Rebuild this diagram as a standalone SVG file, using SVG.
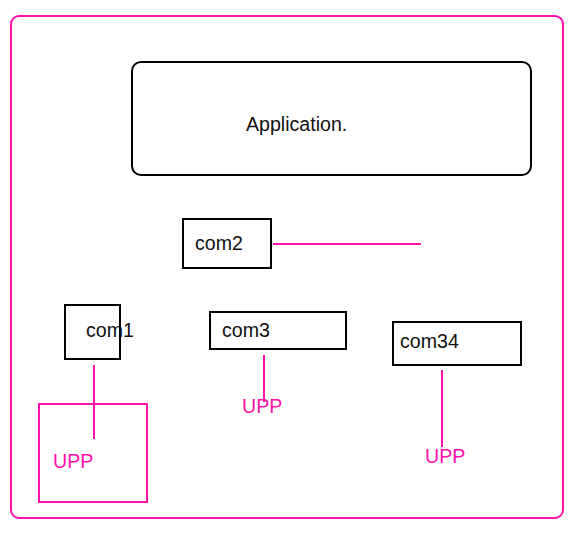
<svg xmlns="http://www.w3.org/2000/svg" width="574" height="533" viewBox="0 0 574 533">
<style>
.box{fill:none;stroke:#000;stroke-width:2}
.pk{fill:none;stroke:#ff11aa;stroke-width:2}
.t{font-family:"Liberation Sans",Arial,sans-serif;font-size:19.6px;fill:#111}
.tp{font-family:"Liberation Sans",Arial,sans-serif;font-size:19.6px;fill:#ff11aa}
</style>
<rect width="574" height="533" fill="#fff"/>
<g id="outer"><rect class="pk" x="11" y="16" width="552" height="502" rx="8"/></g>
<g id="application"><rect class="box" x="132" y="62" width="399" height="113" rx="9"/><text class="t" x="246" y="131">Application.</text></g>
<g id="com2"><rect class="box" x="183" y="219" width="88" height="49"/><text class="t" x="195" y="250">com2</text></g>
<g id="com1"><rect class="box" x="65" y="305" width="55" height="54"/><text class="t" x="86" y="337">com1</text></g>
<g id="upp1"><rect class="pk" x="39" y="404" width="108" height="98"/><text class="tp" x="53" y="468">UPP</text></g>
<g id="com3"><rect class="box" x="210" y="312" width="136" height="37"/><text class="t" x="222" y="337">com3</text></g>
<g id="upp3"><text class="tp" x="242" y="413">UPP</text></g>
<g id="com34"><rect class="box" x="393" y="322" width="128" height="43"/><text class="t" x="400" y="348">com34</text></g>
<g id="upp34"><text class="tp" x="425" y="463">UPP</text></g>
<g id="connectors">
<line class="pk" x1="273" y1="244" x2="421" y2="244"/>
<line class="pk" x1="94" y1="365" x2="94" y2="439"/>
<line class="pk" x1="264" y1="355" x2="264" y2="402"/>
<line class="pk" x1="442" y1="370" x2="442" y2="447"/>
</g>
</svg>
